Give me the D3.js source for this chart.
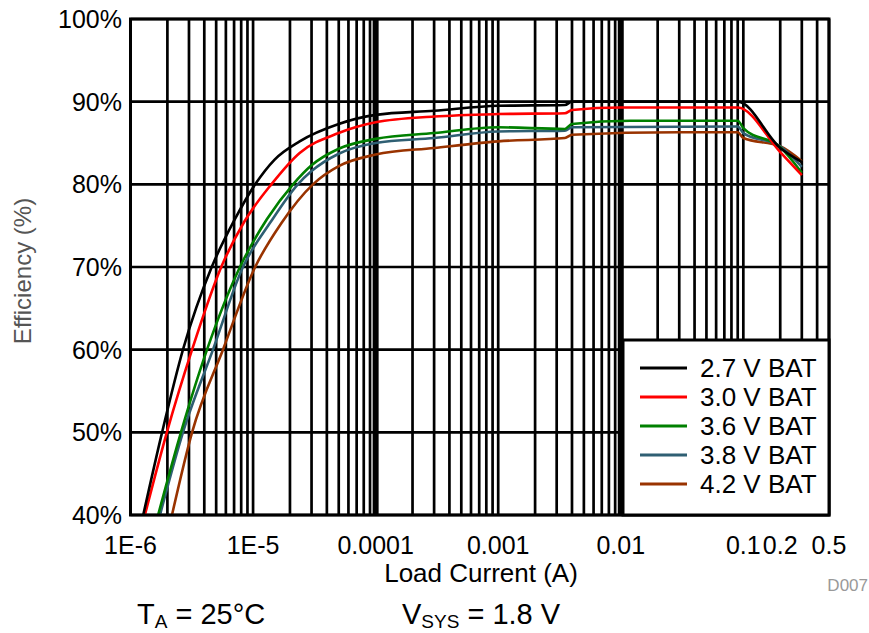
<!DOCTYPE html>
<html>
<head>
<meta charset="utf-8">
<script src="https://cdn.jsdelivr.net/npm/d3@7/dist/d3.min.js"></script>
<style>
  html, body { margin: 0; padding: 0; background: #fff; }
  svg { display: block; }
  text { font-family: "Liberation Sans", Arial, sans-serif; }
</style>
</head>
<body>
<svg id="chart" width="869" height="633"></svg>
<script>
// Efficiency vs load current, one curve per battery voltage
const seriesNames = ["2.7 V BAT", "3.0 V BAT", "3.6 V BAT", "3.8 V BAT", "4.2 V BAT"];
const seriesColors = ["#000000", "#ff0000", "#008000", "#2f5f73", "#993300"];

const bat27Current = [1.27e-6, 1.81e-6, 2.68e-6, 4.6e-6, 7e-6, 1.04e-5, 1.5e-5, 2.4e-5, 5e-5, 1e-4, 3e-4, 1e-3, 3.5e-3, 4e-3, 0.09, 0.2, 0.3];
const bat27Eff     = [40, 50, 60, 70, 75.6, 80, 83, 85.2, 87.3, 88.4, 88.9, 89.5, 89.6, 90.0, 90.0, 84.4, 82.7];

const bat30Current = [1.31e-6, 1.98e-6, 3.18e-6, 5.5e-6, 8.5e-6, 1.41e-5, 2.4e-5, 5e-5, 1e-4, 3e-4, 1e-3, 3.5e-3, 4e-3, 0.01, 0.09, 0.2, 0.3];
const bat30Eff     = [40, 50, 60, 70, 75.5, 80, 83.8, 86.2, 87.5, 88.2, 88.5, 88.6, 89.0, 89.3, 89.3, 83.9, 81.1];

const bat36Current = [1.68e-6, 2.58e-6, 4.21e-6, 7.82e-6, 1.3e-5, 2.12e-5, 3e-5, 5e-5, 1e-4, 3e-4, 1e-3, 3.5e-3, 4e-3, 0.012, 0.09, 0.1, 0.2, 0.3];
const bat36Eff     = [40, 50, 60, 70, 75.8, 80, 82.3, 84.3, 85.5, 86.2, 86.9, 86.7, 87.3, 87.7, 87.7, 86.8, 84.5, 81.4];

const bat38Current = [1.74e-6, 2.68e-6, 4.71e-6, 8.27e-6, 1.4e-5, 2.32e-5, 3e-5, 5e-5, 1e-4, 3e-4, 1e-3, 3.5e-3, 4e-3, 0.09, 0.1, 0.2, 0.3];
const bat38Eff     = [40, 50, 60, 70, 75.5, 80, 81.6, 83.7, 85.0, 85.6, 86.4, 86.5, 86.9, 87.0, 86.2, 84.6, 82.1];

const bat42Current = [2.18e-6, 3.18e-6, 5.68e-6, 1.04e-5, 1.7e-5, 3.08e-5, 5e-5, 1e-4, 3e-4, 1e-3, 3.5e-3, 4e-3, 0.03, 0.09, 0.1, 0.2, 0.3];
const bat42Eff     = [40, 50, 60, 70, 75.3, 80, 82.2, 83.6, 84.4, 85.2, 85.6, 86.0, 86.3, 86.3, 85.6, 84.6, 82.8];

const xTickValues = [1e-6, 1e-5, 1e-4, 1e-3, 0.01, 0.1, 0.2, 0.5];
const xTickLabels = ["1E-6", "1E-5", "0.0001", "0.001", "0.01", "0.1", "0.2", "0.5"];
const yTickValues = [40, 50, 60, 70, 80, 90, 100];
const yTickLabels = ["40%", "50%", "60%", "70%", "80%", "90%", "100%"];

const seriesCurrents = [bat27Current, bat30Current, bat36Current, bat38Current, bat42Current];
const seriesEffs = [bat27Eff, bat30Eff, bat36Eff, bat38Eff, bat42Eff];

const svg = d3.select("#chart");
const plot = { left: 130.5, right: 829, top: 19, bottom: 515 };

const x = d3.scaleLog().domain([1e-6, 0.5]).range([plot.left, plot.right]);
const y = d3.scaleLinear().domain([40, 100]).range([plot.bottom, plot.top]);

svg.append("defs").append("clipPath").attr("id", "plotClip")
  .append("rect")
  .attr("x", plot.left).attr("y", plot.top)
  .attr("width", plot.right - plot.left).attr("height", plot.bottom - plot.top);

// vertical grid: 1..9 in every decade, plus 0.2 … 0.5
const gridX = [];
for (let e = -6; e <= -1; e++) {
  for (let m = 1; m <= 9; m++) {
    const v = m * Math.pow(10, e);
    if (v <= 0.5 + 1e-12) gridX.push(v);
  }
}
const heavyX = [1e-4, 0.01];
const grid = svg.append("g");
grid.selectAll("line.vx").data(gridX).join("line")
  .attr("x1", d => x(d)).attr("x2", d => x(d))
  .attr("y1", plot.top).attr("y2", plot.bottom)
  .attr("stroke", "#000")
  .attr("stroke-width", d => heavyX.some(h => Math.abs(h - d) / h < 1e-6) ? 6 : 2.7);

grid.selectAll("line.hy").data(yTickValues).join("line")
  .attr("x1", plot.left).attr("x2", plot.right)
  .attr("y1", d => y(d)).attr("y2", d => y(d))
  .attr("stroke", "#000").attr("stroke-width", 2.7);

// curves
const line = d3.line()
  .x(d => x(d[0]))
  .y(d => y(d[1]))
  .curve(d3.curveMonotoneX);

const curves = svg.append("g").attr("clip-path", "url(#plotClip)");
for (let i = seriesNames.length - 1; i >= 0; i--) {
  const pts = seriesCurrents[i].map((c, k) => [c, seriesEffs[i][k]]);
  curves.append("path")
    .attr("d", line(pts))
    .attr("fill", "none")
    .attr("stroke", seriesColors[i])
    .attr("stroke-width", 2.6)
    .attr("stroke-linejoin", "round");
}

// plot frame
svg.append("rect")
  .attr("x", plot.left).attr("y", plot.top)
  .attr("width", plot.right - plot.left).attr("height", plot.bottom - plot.top)
  .attr("fill", "none").attr("stroke", "#000").attr("stroke-width", 3);

// legend
const lg = { left: 623, top: 340 };
svg.append("rect")
  .attr("x", lg.left).attr("y", lg.top)
  .attr("width", plot.right - lg.left).attr("height", plot.bottom - lg.top)
  .attr("fill", "#fff").attr("stroke", "#000").attr("stroke-width", 3);

const items = svg.append("g").selectAll("g").data(seriesNames).join("g")
  .attr("transform", (d, i) => `translate(0, ${368 + i * 29})`);
items.append("line")
  .attr("x1", 640).attr("x2", 687)
  .attr("stroke", (d, i) => seriesColors[i]).attr("stroke-width", 3);
items.append("text")
  .attr("x", 700).attr("y", 0).attr("dy", "0.36em")
  .attr("font-size", 26).attr("fill", "#000")
  .text(d => d);

// axis tick labels
svg.append("g").selectAll("text").data(xTickValues).join("text")
  .attr("x", d => x(d)).attr("y", 554)
  .attr("text-anchor", "middle").attr("font-size", 25).attr("fill", "#000")
  .text((d, i) => xTickLabels[i]);

svg.append("g").selectAll("text").data(yTickValues).join("text")
  .attr("x", 122).attr("y", d => y(d)).attr("dy", "0.36em")
  .attr("text-anchor", "end").attr("font-size", 25).attr("fill", "#000")
  .text((d, i) => yTickLabels[i]);

// axis titles
svg.append("text")
  .attr("x", 481).attr("y", 582)
  .attr("text-anchor", "middle").attr("font-size", 26).attr("fill", "#000")
  .text("Load Current (A)");

svg.append("text")
  .attr("transform", "translate(31, 271) rotate(-90)")
  .attr("text-anchor", "middle").attr("font-size", 24).attr("fill", "#555")
  .text("Efficiency (%)");

svg.append("text")
  .attr("x", 868).attr("y", 591)
  .attr("text-anchor", "end").attr("font-size", 17).attr("fill", "#999")
  .text("D007");

// test conditions
const cond1 = svg.append("text").attr("x", 137).attr("y", 624).attr("font-size", 29).attr("fill", "#000");
cond1.append("tspan").text("T");
cond1.append("tspan").attr("font-size", 19).attr("dy", 4).text("A");
cond1.append("tspan").attr("dy", -4).text(" = 25°C");

const cond2 = svg.append("text").attr("x", 402).attr("y", 624).attr("font-size", 29).attr("fill", "#000");
cond2.append("tspan").text("V");
cond2.append("tspan").attr("font-size", 19).attr("dy", 4).text("SYS");
cond2.append("tspan").attr("dy", -4).text(" = 1.8 V");
</script>
</body>
</html>
